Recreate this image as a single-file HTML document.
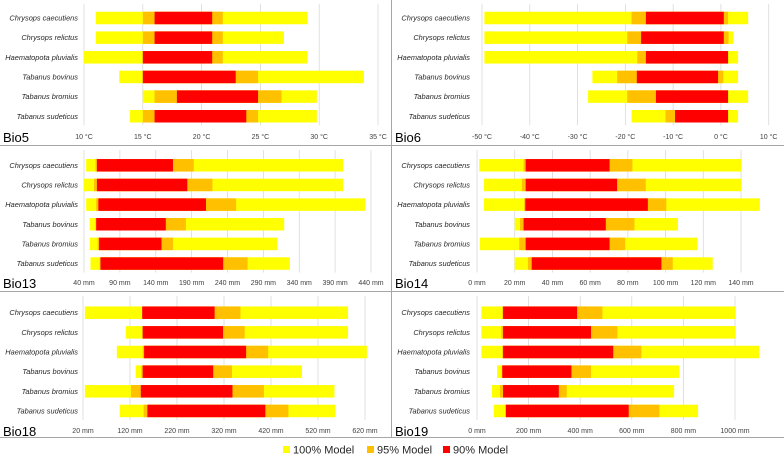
<!DOCTYPE html>
<html><head><meta charset="utf-8"><style>
html,body{margin:0;padding:0;background:#fff;}
svg{display:block;font-family:"Liberation Sans",Arial,sans-serif;}
</style></head><body>
<svg id="chart" width="784" height="458" viewBox="0 0 784 458" xmlns="http://www.w3.org/2000/svg"></svg>
<script>
const species = ["Chrysops caecutiens","Chrysops relictus","Haematopota pluvialis","Tabanus bovinus","Tabanus bromius","Tabanus sudeticus"];
// each entry: [min,max]
const bio5_100 = [[11,29],[11,27],[10,29],[13,33.8],[15,29.8],[13.9,29.8]];
const bio5_95  = [[15,21.8],[15,21.8],[15,21.8],[15,24.8],[16,26.8],[15,24.8]];
const bio5_90  = [[16,20.9],[16,20.9],[15,20.9],[15,22.9],[17.9,24.8],[16,23.8]];
const bio5_ticks = [10,15,20,25,30,35];
const bio6_100 = [[-49.5,5.7],[-49.5,2.6],[-49.5,3.6],[-26.9,3.6],[-27.8,5.7],[-18.7,3.6]];
const bio6_95  = [[-18.7,1.5],[-19.6,1.6],[-17.5,1.5],[-21.7,0.5],[-19.6,1.5],[-11.6,1.5]];
const bio6_90  = [[-15.7,0.6],[-16.7,0.6],[-15.7,1.5],[-17.6,-0.6],[-13.6,1.5],[-9.6,1.5]];
const bio6_ticks = [-50,-40,-30,-20,-10,0,10];
const bio13_100 = [[43,401],[40,401],[43,432],[48,319],[48,309],[49,327]];
const bio13_95  = [[56,193],[54,219],[57,252],[56,182],[59,164],[62,268]];
const bio13_90  = [[58,164],[58,184],[60,210],[57,154],[61,148],[63,234]];
const bio13_ticks = [40,90,140,190,240,290,340,390,440];
const bio14_100 = [[1.2,140.3],[3.7,140.3],[3.7,150],[20,106.6],[1.6,116.9],[20,125]];
const bio14_95  = [[24.7,82.4],[23.8,89.5],[25,100.4],[22.8,83.5],[22.4,78.6],[27,103.8]];
const bio14_90  = [[25.8,70.3],[25.8,74.3],[25.6,90.6],[24.7,68.3],[25.8,70.3],[29,97.8]];
const bio14_ticks = [0,20,40,60,80,100,120,140];
const bio18_100 = [[24,584],[111,584],[92,624],[132,486],[24,555],[98,557]];
const bio18_95  = [[146,355],[146,364],[147,414],[144,337],[122,405],[149,457]];
const bio18_90  = [[146,300],[147,318],[150,367],[147,297],[143,338],[157,408]];
const bio18_ticks = [20,120,220,320,420,520,620];
const bio19_100 = [[17,1003],[17,1003],[17,1093],[78,784],[58,764],[65,857]];
const bio19_95  = [[98,486],[94,544],[98,637],[96,442],[89,348],[110,707]];
const bio19_90  = [[101,388],[101,442],[101,528],[98,366],[101,317],[112,588]];
const bio19_ticks = [0,200,400,600,800,1000];

const NS="http://www.w3.org/2000/svg";
const svg=document.getElementById('chart');
function mk(tag,attrs,parent){const e=document.createElementNS(NS,tag);for(const k in attrs)e.setAttribute(k,attrs[k]);(parent||svg).appendChild(e);return e;}

const panels=[
 {title:"Bio5",ox:0,oy:0,x0:84,x1:378,d0:10,d1:35,unit:" °C",a:bio5_100,b:bio5_95,c:bio5_90,ticks:bio5_ticks,rowY:18,axisY:139},
 {title:"Bio6",ox:392,oy:0,x0:90,x1:376.7,d0:-50,d1:10,unit:" °C",a:bio6_100,b:bio6_95,c:bio6_90,ticks:bio6_ticks,rowY:18,axisY:139},
 {title:"Bio13",ox:0,oy:146,x0:84,x1:371,d0:40,d1:440,unit:" mm",a:bio13_100,b:bio13_95,c:bio13_90,ticks:bio13_ticks,rowY:19.3,axisY:139},
 {title:"Bio14",ox:392,oy:146,x0:85,x1:349,d0:0,d1:140,unit:" mm",a:bio14_100,b:bio14_95,c:bio14_90,ticks:bio14_ticks,rowY:19.3,axisY:139},
 {title:"Bio18",ox:0,oy:292,x0:83,x1:365,d0:20,d1:620,unit:" mm",a:bio18_100,b:bio18_95,c:bio18_90,ticks:bio18_ticks,rowY:20.7,axisY:141},
 {title:"Bio19",ox:392,oy:292,x0:85,x1:343,d0:0,d1:1000,unit:" mm",a:bio19_100,b:bio19_95,c:bio19_90,ticks:bio19_ticks,rowY:20.7,axisY:141}
];
const rowStep=19.65, barH=12.5;
const colors=["#FFFF00","#FFC000","#FF0000"];

panels.forEach(p=>{
  const g=mk('g',{transform:`translate(${p.ox},${p.oy})`});
  
  
  const sx=v=>p.x0+(v-p.d0)/(p.d1-p.d0)*(p.x1-p.x0);
  p.ticks.forEach(t=>{
    const l=mk('line',{x1:sx(t),x2:sx(t),y1:4,y2:p.rowY+5*rowStep+9,stroke:"#d9d9d9","stroke-width":0.8},g);
    
    
    const tx=mk('text',{x:sx(t),y:p.axisY,"font-size":7,"text-anchor":"middle",fill:"#404040"},g);
    tx.textContent=t+p.unit;
    
    
  });
  species.forEach((s,i)=>{
    const cy=p.rowY+i*rowStep;
    const lb=mk('text',{x:78,y:cy+2.5,"font-size":7.4,"font-style":"italic","text-anchor":"end",fill:"#262626"},g);
    lb.textContent=s;
    
    
    [p.a,p.b,p.c].forEach((arr,k)=>{
      const r=arr[i];
      const rc=mk('rect',{x:sx(r[0]),y:cy-barH/2,width:Math.max(0,sx(r[1])-sx(r[0])),height:barH,fill:colors[k]},g);
      
      
    });
  });
  const tt=mk('text',{x:3,y:p.axisY+3,"font-size":13,fill:"#000"},g);
  tt.textContent=p.title;
  
  
});
// dividers
[[391.5,0,391.5,438],[0,145.5,784,145.5],[0,291.5,784,291.5],[0,437.5,784,437.5]].forEach(d=>{
  const l=mk('line',{x1:d[0],y1:d[1],x2:d[2],y2:d[3],stroke:"#a6a6a6","stroke-width":1});
  
  
});
// legend
const legend=[["100% Model","#FFFF00",283],["95% Model","#FFC000",367],["90% Model","#FF0000",443]];
legend.forEach(e=>{
  const g=mk('g',{});
  
  
  mk('rect',{x:e[2],y:446,width:7,height:7,fill:e[1]},g);
  const t=mk('text',{x:e[2]+10,y:453.5,"font-size":11,fill:"#262626"},g);
  t.textContent=e[0];
});
</script>
</body></html>
